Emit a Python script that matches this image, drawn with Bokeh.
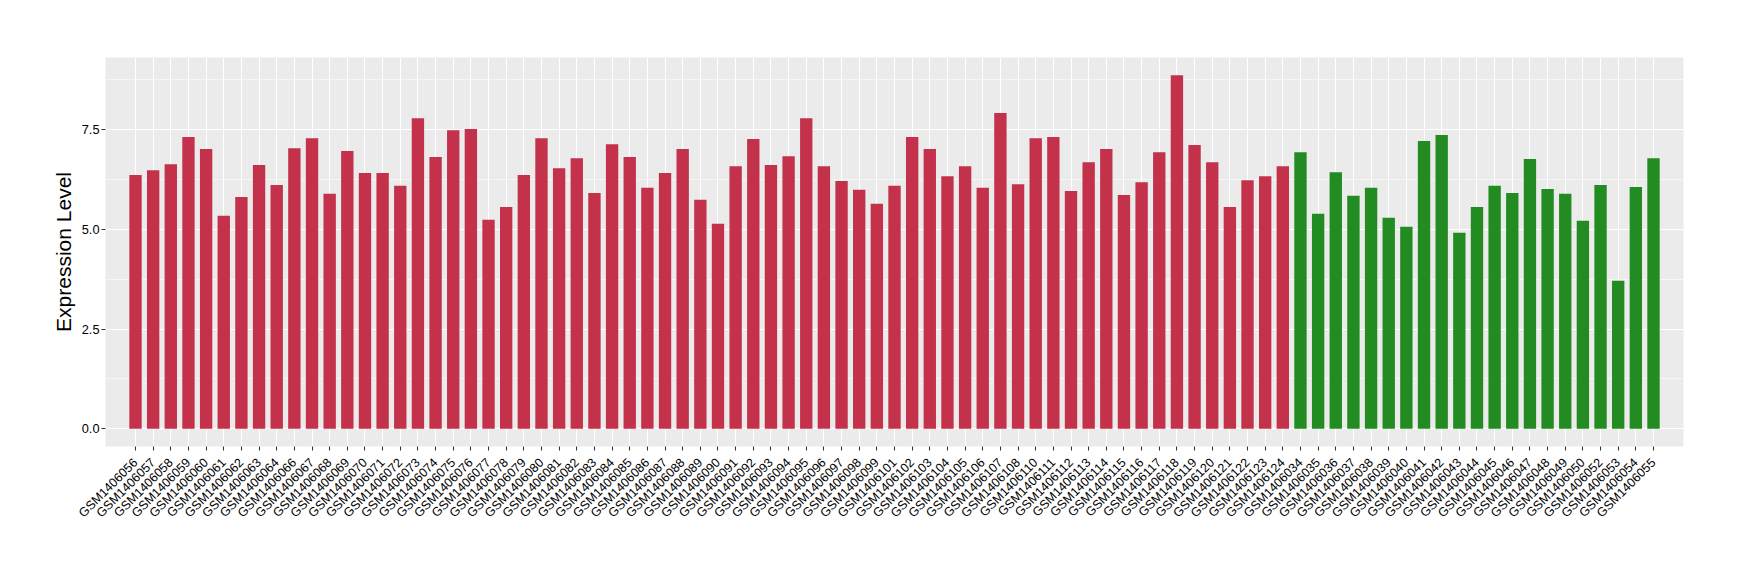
import math
from bokeh.plotting import figure
from bokeh.models import FactorRange, Range1d, FixedTicker, PrintfTickFormatter, ColumnDataSource
from bokeh.embed import file_html
from bokeh.resources import INLINE

# ---- data ----
red_samples = [
    "GSM1406056", "GSM1406057", "GSM1406058", "GSM1406059", "GSM1406060", "GSM1406061",
    "GSM1406062", "GSM1406063", "GSM1406064", "GSM1406066", "GSM1406067", "GSM1406068",
    "GSM1406069", "GSM1406070", "GSM1406071", "GSM1406072", "GSM1406073", "GSM1406074",
    "GSM1406075", "GSM1406076", "GSM1406077", "GSM1406078", "GSM1406079", "GSM1406080",
    "GSM1406081", "GSM1406082", "GSM1406083", "GSM1406084", "GSM1406085", "GSM1406086",
    "GSM1406087", "GSM1406088", "GSM1406089", "GSM1406090", "GSM1406091", "GSM1406092",
    "GSM1406093", "GSM1406094", "GSM1406095", "GSM1406096", "GSM1406097", "GSM1406098",
    "GSM1406099", "GSM1406101", "GSM1406102", "GSM1406103", "GSM1406104", "GSM1406105",
    "GSM1406106", "GSM1406107", "GSM1406108", "GSM1406110", "GSM1406111", "GSM1406112",
    "GSM1406113", "GSM1406114", "GSM1406115", "GSM1406116", "GSM1406117", "GSM1406118",
    "GSM1406119", "GSM1406120", "GSM1406121", "GSM1406122", "GSM1406123", "GSM1406124",
]
red_values = [
    6.36, 6.48, 6.63, 7.31, 7.01, 5.34,
    5.81, 6.61, 6.11, 7.03, 7.28, 5.89,
    6.96, 6.41, 6.41, 6.09, 7.78, 6.81,
    7.48, 7.51, 5.24, 5.56, 6.36, 7.28,
    6.53, 6.78, 5.91, 7.13, 6.81, 6.04,
    6.41, 7.01, 5.74, 5.14, 6.58, 7.26,
    6.61, 6.83, 7.78, 6.58, 6.21, 5.99,
    5.64, 6.09, 7.31, 7.01, 6.33, 6.58,
    6.04, 7.91, 6.13, 7.28, 7.31, 5.96,
    6.68, 7.01, 5.86, 6.18, 6.93, 8.86,
    7.11, 6.68, 5.56, 6.23, 6.33, 6.58,
]
green_samples = [
    "GSM1406034", "GSM1406035", "GSM1406036", "GSM1406037", "GSM1406038", "GSM1406039",
    "GSM1406040", "GSM1406041", "GSM1406042", "GSM1406043", "GSM1406044", "GSM1406045",
    "GSM1406046", "GSM1406047", "GSM1406048", "GSM1406049", "GSM1406050", "GSM1406052",
    "GSM1406053", "GSM1406054", "GSM1406055",
]
green_values = [
    6.93, 5.39, 6.43, 5.84, 6.04, 5.29,
    5.06, 7.21, 7.36, 4.91, 5.56, 6.09,
    5.91, 6.76, 6.01, 5.89, 5.21, 6.11,
    3.71, 6.06, 6.78,
]
y_ticks = [0, 2.5, 5.0, 7.5]
y_minor = [1.25, 3.75, 6.25, 8.75]

RED = "#C3314A"
GREEN = "#228B22"
FONT = "Liberation Sans"

samples = red_samples + green_samples
values = red_values + green_values
colors = [RED] * len(red_samples) + [GREEN] * len(green_samples)

vmax = max(values)
ylo, yhi = -0.05 * vmax, vmax * 1.05

src = ColumnDataSource(dict(x=samples, top=values, color=colors))

p = figure(
    x_range=FactorRange(factors=samples, range_padding=1.2, range_padding_units="absolute"),
    y_range=Range1d(ylo, yhi),
    frame_width=1578, frame_height=389,
    min_border_left=105, min_border_right=41, min_border_top=57, min_border_bottom=118,
    output_backend="svg", toolbar_location=None,
)
p.background_fill_color = "#EBEBEB"
p.border_fill_color = "white"
p.outline_line_color = None

p.vbar(x="x", top="top", bottom=0, width=0.7, source=src,
       fill_color="color", line_color=None)

# grids
p.xgrid.grid_line_color = "white"
p.xgrid.grid_line_width = 1.1
p.ygrid.grid_line_color = "white"
p.ygrid.grid_line_width = 1.1
p.ygrid.minor_grid_line_color = "white"
p.ygrid.minor_grid_line_width = 0.55

# y axis
p.yaxis.ticker = FixedTicker(ticks=y_ticks, minor_ticks=y_minor)
p.yaxis.formatter = PrintfTickFormatter(format="%.1f")
p.yaxis.axis_label = "Expression Level"
p.yaxis.axis_label_text_font = FONT
p.yaxis.axis_label_text_font_size = "21px"
p.yaxis.axis_label_text_font_style = "normal"
p.yaxis.axis_label_text_color = "black"
p.yaxis.axis_label_standoff = 4
p.yaxis.minor_tick_line_color = None

for ax in (p.xaxis[0], p.yaxis[0]):
    ax.axis_line_color = None
    ax.major_tick_line_color = "#333333"
    ax.major_tick_line_width = 1.07
    ax.major_tick_in = 0
    ax.major_tick_out = 4
    ax.major_label_text_font = FONT
    ax.major_label_text_font_size = "12.8px"
    ax.major_label_text_color = "black"
    ax.major_label_standoff = 2

p.xaxis.major_label_orientation = math.pi / 4
p.xaxis.major_label_text_font_size = "12.5px"
p.xaxis.major_label_standoff = 10

open("out.html", "w").write(file_html(p, INLINE))
